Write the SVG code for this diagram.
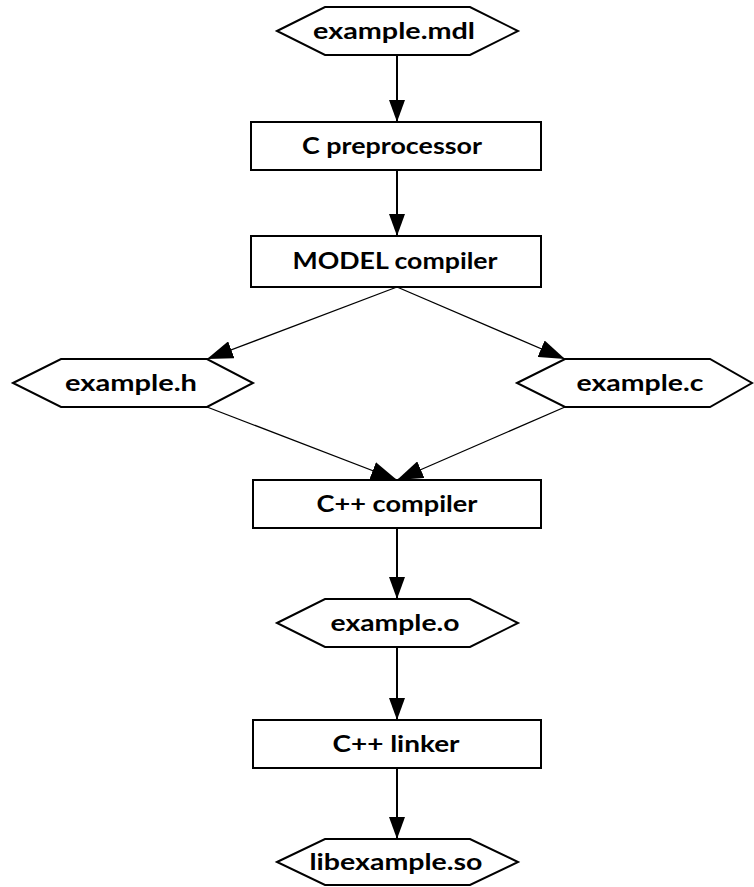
<svg xmlns="http://www.w3.org/2000/svg" width="754" height="887" viewBox="0 0 754 887">
<style>
.node{fill:#fff;stroke:#000;stroke-width:2}
.lbl{font-family:Lato,"Liberation Sans",sans-serif;font-weight:bold;font-size:23px;fill:#000;text-anchor:middle}
.edge{fill:none;stroke:#000;stroke-width:2}
.diag{fill:none;stroke:#000;stroke-width:1.3}
</style>
<defs>
<marker id="ah" viewBox="0 0 22 16" refX="22" refY="8" markerWidth="22" markerHeight="16" markerUnits="userSpaceOnUse" orient="auto">
<path d="M0,0 L22,8 L0,16 Z" fill="#000"/>
</marker>
<marker id="ahd" viewBox="0 0 26 18" refX="26" refY="9" markerWidth="26" markerHeight="18" markerUnits="userSpaceOnUse" orient="auto">
<path d="M0,0 L26,9 L0,18 Z" fill="#000"/>
</marker>
</defs>
<rect width="754" height="887" fill="#fff"/>
<g id="connectors">
<line class="edge" x1="397" y1="55" x2="397" y2="122" marker-end="url(#ah)"/>
<line class="edge" x1="397" y1="170" x2="397" y2="236" marker-end="url(#ah)"/>
<line class="diag" x1="397" y1="287" x2="207" y2="359" marker-end="url(#ahd)"/>
<line class="diag" x1="397" y1="287" x2="565" y2="359" marker-end="url(#ahd)"/>
<line class="diag" x1="207" y1="407" x2="397" y2="480" marker-end="url(#ahd)"/>
<line class="diag" x1="565" y1="407" x2="397" y2="480" marker-end="url(#ahd)"/>
<line class="edge" x1="397" y1="528" x2="397" y2="599" marker-end="url(#ah)"/>
<line class="edge" x1="397" y1="647" x2="397" y2="720" marker-end="url(#ah)"/>
<line class="edge" x1="397" y1="768" x2="397" y2="839" marker-end="url(#ah)"/>
</g>
<g id="example_mdl">
<polygon class="node" points="277,31 325,7 470,7 518,31 470,55 325,55"/>
<text class="lbl" x="394" y="39" textLength="162" lengthAdjust="spacingAndGlyphs">example.mdl</text>
</g>
<g id="c_preprocessor">
<rect class="node" x="251" y="122" width="290" height="48"/>
<text class="lbl" x="392" y="154" textLength="180" lengthAdjust="spacingAndGlyphs">C preprocessor</text>
</g>
<g id="model_compiler">
<rect class="node" x="251" y="236" width="290" height="51"/>
<text class="lbl" x="395" y="269" textLength="205" lengthAdjust="spacingAndGlyphs">MODEL compiler</text>
</g>
<g id="example_h">
<polygon class="node" points="13,383 61,359 207,359 253,383 207,407 61,407"/>
<text class="lbl" x="131" y="391" textLength="132" lengthAdjust="spacingAndGlyphs">example.h</text>
</g>
<g id="example_c">
<polygon class="node" points="517,383 565,359 710,359 752,383 710,407 565,407"/>
<text class="lbl" x="640" y="391" textLength="127" lengthAdjust="spacingAndGlyphs">example.c</text>
</g>
<g id="cpp_compiler">
<rect class="node" x="253" y="480" width="288" height="48"/>
<text class="lbl" x="397" y="512" textLength="161" lengthAdjust="spacingAndGlyphs">C++ compiler</text>
</g>
<g id="example_o">
<polygon class="node" points="277,623 325,599 470,599 518,623 470,647 325,647"/>
<text class="lbl" x="395" y="631" textLength="129" lengthAdjust="spacingAndGlyphs">example.o</text>
</g>
<g id="cpp_linker">
<rect class="node" x="253" y="720" width="288" height="48"/>
<text class="lbl" x="396" y="752" textLength="127" lengthAdjust="spacingAndGlyphs">C++ linker</text>
</g>
<g id="libexample_so">
<polygon class="node" points="277,862 325,839 470,839 518,862 470,885 325,885"/>
<text class="lbl" x="396" y="870" textLength="173" lengthAdjust="spacingAndGlyphs">libexample.so</text>
</g>
</svg>
